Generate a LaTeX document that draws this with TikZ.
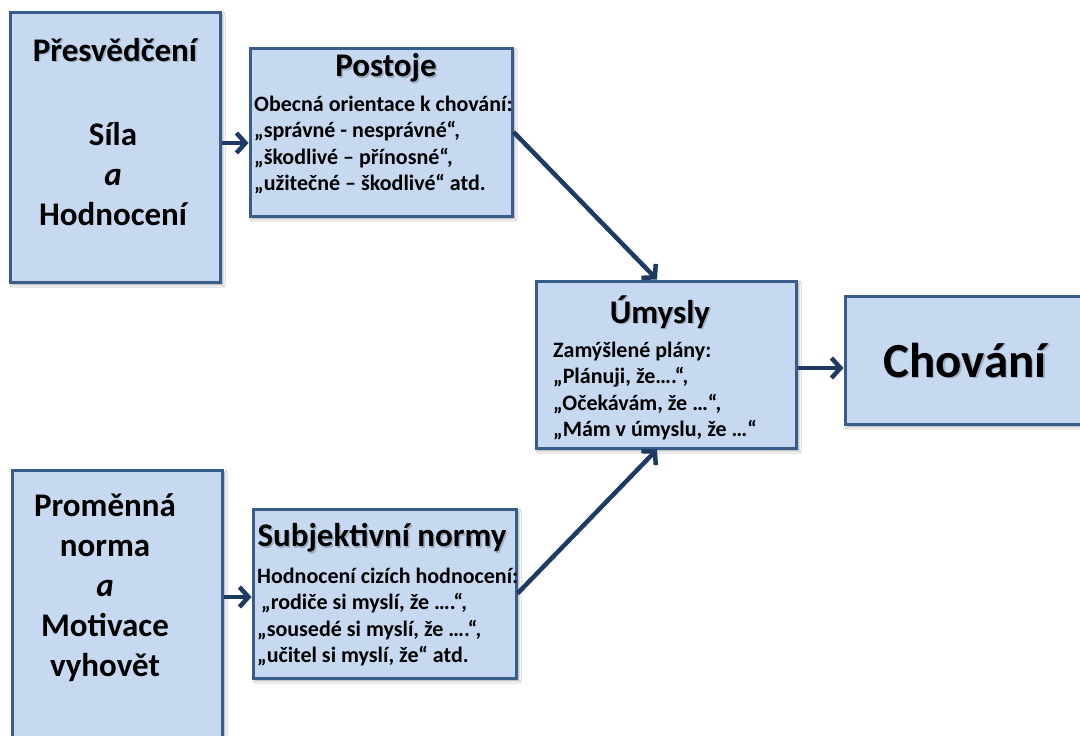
\documentclass[tikz,border=0pt]{standalone}
\usepackage{fontspec}
\setmainfont{Carlito}
\usetikzlibrary{arrows.meta,shadows.blur}

\definecolor{boxfill}{HTML}{C6D9F1}
\definecolor{boxline}{HTML}{385D8A}
\definecolor{arrowcol}{HTML}{1F3A63}

\tikzset{
  panel/.style={rectangle, draw=boxline, line width=3pt, fill=boxfill, inner sep=0pt,
    blur shadow={shadow xshift=2.5pt, shadow yshift=-2.5pt, shadow blur radius=2.5pt, shadow opacity=45}},
  flow/.style={draw=arrowcol, line width=4.5pt, -{Straight Barb[length=9pt,width=20pt]}},
  ttl/.style={font=\fontsize{33}{40}\selectfont\bfseries, inner sep=0pt, align=center},
  ttlshade/.style={ttl, text=black, opacity=0.2},
  bigttl/.style={font=\fontsize{49}{55}\selectfont\bfseries, inner sep=0pt},
  bigshade/.style={bigttl, text=black, opacity=0.2},
  bodytext/.style={font=\fontsize{22}{26.3}\selectfont\bfseries, inner sep=0pt, align=left, anchor=north west},
}

\begin{document}
\begin{tikzpicture}[x=1pt, y=-1pt]
  \useasboundingbox (0,0) rectangle (1080,736);
  \fill[white] (0,0) rectangle (1080,736);
  \clip (0,0) rectangle (1080,736);

  % boxes
  \node[panel, minimum width=210pt, minimum height=270pt] (pres) at (115,147) {};
  \node[panel, minimum width=262pt, minimum height=168pt] (post) at (381,132) {};
  \node[panel, minimum width=260pt, minimum height=167pt] (um)   at (666,364.5) {};
  \node[panel, minimum width=265pt, minimum height=128pt] (cho)  at (977.5,360) {};
  \node[panel, minimum width=210pt, minimum height=290pt] (prom) at (117,615) {};
  \node[panel, minimum width=263pt, minimum height=169pt] (subj) at (384.5,593.5) {};

  % connectors
  \coordinate (c1) at ([yshift=4pt]pres.east);
  \coordinate (c2) at ([yshift=-3.5pt]subj.west);
  \coordinate (c3) at ([yshift=-3.5pt]um.east);
  \draw[flow] (c1) -- (c1 -| post.west);
  \draw[flow] (c2 -| prom.east) -- (c2);
  \draw[flow] (post.east) -- ([xshift=-9pt]um.north);
  \draw[flow] (subj.east) -- ([xshift=-9pt]um.south);
  \draw[flow] (c3) -- (c3 -| cho.west);

  % left column
  \node[ttlshade] (presTs) at (116.5,51.5) {Přesvědčení};
  \node[ttl] (presT) at (115,50) {Přesvědčení};
  \node[ttl] (presB) at (113,174) {Síla\\\textit{a}\\Hodnocení};
  \node[ttl] (promB) at (105,587.5) {Proměnná\\norma\\\textit{a}\\Motivace\\vyhovět};

  % attitudes
  \node[ttlshade] (postTs) at (387.5,69.5) {Postoje};
  \node[ttl] (postT) at (386,68) {Postoje};
  \node[bodytext] (postB) at (254,96) {Obecná orientace k chování:\\„správné - nesprávné“,\\„škodlivé – přínosné“,\\„užitečné – škodlivé“ atd.};

  % subjective norms
  \node[ttlshade] (subjTs) at (383.5,539.5) {Subjektivní normy};
  \node[ttl] (subjT) at (382,538) {Subjektivní normy};
  \node[bodytext] (subjB) at (257,568) {Hodnocení cizích hodnocení:\\\hspace*{4pt}„rodiče si myslí, že ….“,\\„sousedé si myslí, že ….“,\\„učitel si myslí, že“ atd.};

  % intentions
  \node[ttlshade] (umTs) at (661.5,313.5) {Úmysly};
  \node[ttl] (umT) at (660,312) {Úmysly};
  \node[bodytext] (umB) at (553,342) {Zamýšlené plány:\\„Plánuji, že….“,\\„Očekávám, že …“,\\„Mám v úmyslu, že …“};

  % behaviour
  \node[bigshade] (choTs) at (966.5,361.5) {Chování};
  \node[bigttl] (choT) at (965,360) {Chování};
\end{tikzpicture}
\end{document}
